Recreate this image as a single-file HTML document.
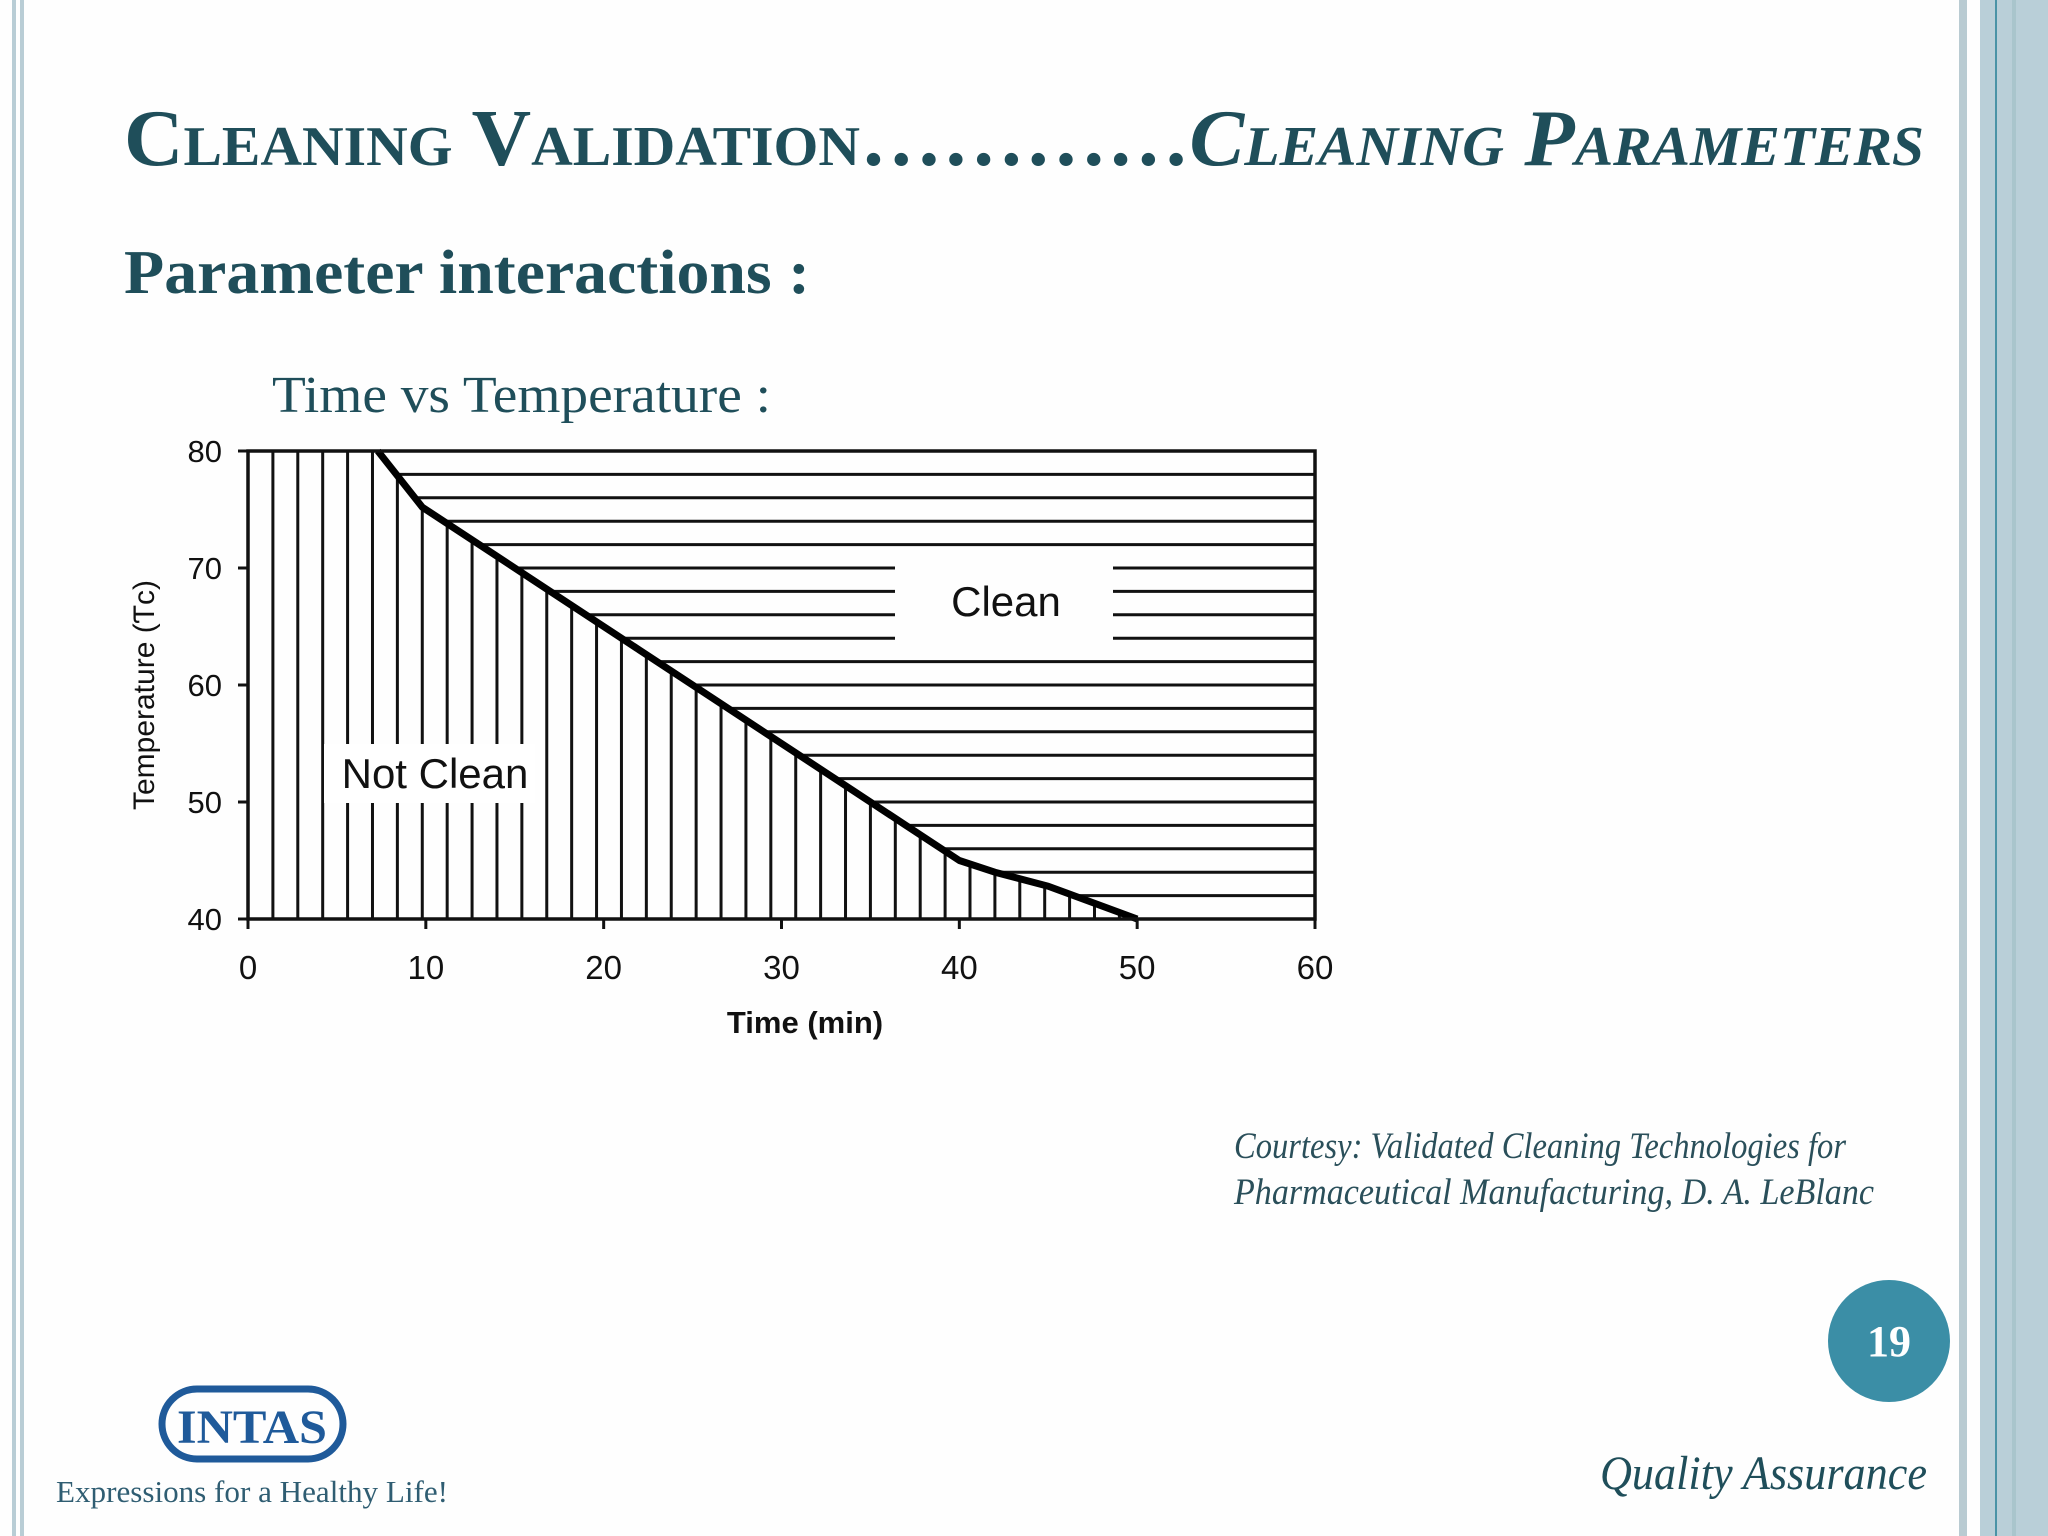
<!DOCTYPE html>
<html><head><meta charset="utf-8"><style>
html,body{margin:0;padding:0;background:#fff;}
svg{display:block;}
</style></head><body>
<svg id="s" width="2048" height="1536" viewBox="0 0 2048 1536" xmlns="http://www.w3.org/2000/svg" font-family="'Liberation Serif', serif">
<rect width="2048" height="1536" fill="#fefefe"/>
<rect x="12" y="0" width="4" height="1536" fill="#b9cdd5"/>
<rect x="20" y="0" width="4" height="1536" fill="#b9cdd5"/>
<rect x="1959" y="0" width="8" height="1536" fill="#b9cbd2"/>
<rect x="1980" y="0" width="68" height="1536" fill="#b9cfd8"/>
<rect x="1995" y="0" width="2" height="1536" fill="#4a93a6"/>
<rect x="2012" y="0" width="4" height="1536" fill="#a9c5cc"/>

<text x="124" y="165" font-size="80" font-weight="bold" fill="#1f4e5a" style="font-variant:small-caps" textLength="1800" lengthAdjust="spacingAndGlyphs">Cleaning Validation…………<tspan font-style="italic">Cleaning Parameters</tspan></text>
<text x="124" y="293" font-size="62" font-weight="bold" fill="#1f4e5a" textLength="686" lengthAdjust="spacingAndGlyphs">Parameter interactions :</text>
<text x="272" y="412" font-size="52" fill="#1f4e5a" textLength="499" lengthAdjust="spacingAndGlyphs">Time vs Temperature :</text>

<g id="chart" font-family="'Liberation Sans', sans-serif"></g>

<text x="1234" y="1158" font-size="37" font-style="italic" fill="#2a4f5a" textLength="612" lengthAdjust="spacingAndGlyphs">Courtesy: Validated Cleaning Technologies for</text>
<text x="1234" y="1204" font-size="37" font-style="italic" fill="#2a4f5a" textLength="640" lengthAdjust="spacingAndGlyphs">Pharmaceutical Manufacturing, D. A. LeBlanc</text>

<circle cx="1889" cy="1341" r="61" fill="#3b8ea6"/>
<text x="1889" y="1356" font-size="44" font-weight="bold" fill="#fff" text-anchor="middle">19</text>
<text x="1600" y="1489" font-size="48" font-style="italic" fill="#1f4e5a" textLength="327" lengthAdjust="spacingAndGlyphs">Quality Assurance</text>

<g>
<rect x="162" y="1389" width="181" height="70" rx="35" fill="none" stroke="#1f5a9a" stroke-width="7"/>
<text x="252" y="1443" font-size="48" font-weight="bold" fill="#1f5a9a" text-anchor="middle" textLength="150" lengthAdjust="spacingAndGlyphs">INTAS</text>
<text x="56" y="1502" font-size="31" fill="#2f5d72" textLength="392" lengthAdjust="spacingAndGlyphs">Expressions for a Healthy Life!</text>
</g>
</svg>
<script>
// data
const curveTimes = [7.3, 9.8, 13, 17, 22, 26, 31, 34, 37, 40, 42, 45, 50];
const curveTemps = [80, 75.2, 72, 68, 63, 59, 54, 51, 48, 45, 44, 42.8, 40];
const xTicks = [0, 10, 20, 30, 40, 50, 60];
const yTicks = [40, 50, 60, 70, 80];

const NS = 'http://www.w3.org/2000/svg';
const g = document.getElementById('chart');
const X0 = 248, X1 = 1315, Y0 = 919, Y1 = 451;
const xs = t => X0 + (t - 0) / 60 * (X1 - X0);
const ys = v => Y0 - (v - 40) / 40 * (Y0 - Y1);
function mk(tag, attrs, parent) {
  const e = document.createElementNS(NS, tag);
  for (const k in attrs) e.setAttribute(k, attrs[k]);
  (parent || g).appendChild(e);
  return e;
}
function tempAt(t) {
  if (t <= curveTimes[0]) return 80;
  for (let i = 1; i < curveTimes.length; i++) {
    if (t <= curveTimes[i]) {
      const f = (t - curveTimes[i-1]) / (curveTimes[i] - curveTimes[i-1]);
      return curveTemps[i-1] + f * (curveTemps[i] - curveTemps[i-1]);
    }
  }
  return 40;
}
function timeAt(v) {
  for (let i = 1; i < curveTemps.length; i++) {
    if (v >= curveTemps[i]) {
      const f = (curveTemps[i-1] - v) / (curveTemps[i-1] - curveTemps[i]);
      return curveTimes[i-1] + f * (curveTimes[i] - curveTimes[i-1]);
    }
  }
  return curveTimes[curveTimes.length-1];
}
const lastT = curveTimes[curveTimes.length-1];
for (let t = 0; t < lastT; t += 1.4) {
  const l = mk('line', {x1: xs(t), x2: xs(t), y1: Y0, y2: ys(tempAt(t)), stroke: '#111', 'stroke-width': 3});
  
  
}
for (let v = 40; v <= 80.01; v += 2) {
  const xa = xs(timeAt(v)), y = ys(v);
  const segs = (y > 565 && y < 642) ? [[xa, 895], [1113, X1]] : [[xa, X1]];
  segs.forEach(s => {
    if (s[1] <= s[0]) return;
    const l = mk('line', {x1: s[0], x2: s[1], y1: y, y2: y, stroke: '#111', 'stroke-width': 3});
    
    
  });
}
const nb = mk('rect', {x: 324, y: 744, width: 211, height: 59, fill: '#fff'});


const nt = mk('text', {x: 435, y: 788, 'font-size': 42, 'text-anchor': 'middle', fill: '#111'});
nt.textContent = 'Not Clean';


const ct = mk('text', {x: 1006, y: 616, 'font-size': 42, 'text-anchor': 'middle', fill: '#111'});
ct.textContent = 'Clean';


const pts = curveTimes.map((t, i) => xs(t) + ',' + ys(curveTemps[i])).join(' ');
const cl = mk('polyline', {points: pts, fill: 'none', stroke: '#000', 'stroke-width': 7, 'stroke-linejoin': 'round'});


const fr = mk('rect', {x: X0, y: Y1, width: X1 - X0, height: Y0 - Y1, fill: 'none', stroke: '#111', 'stroke-width': 3.5});


xTicks.forEach(t => {
  const tk = mk('line', {x1: xs(t), x2: xs(t), y1: Y0, y2: Y0 + 10, stroke: '#111', 'stroke-width': 3});
  
  
  const tl = mk('text', {x: xs(t), y: 979, 'font-size': 33, 'text-anchor': 'middle', fill: '#111'});
  tl.textContent = t;
  
  
});
yTicks.forEach(v => {
  const tk = mk('line', {x1: X0 - 10, x2: X0, y1: ys(v), y2: ys(v), stroke: '#111', 'stroke-width': 3});
  
  
  const tl = mk('text', {x: 222, y: ys(v) + 11, 'font-size': 31, 'text-anchor': 'end', fill: '#111'});
  tl.textContent = v;
  
  
});
const xt = mk('text', {x: 805, y: 1033, 'font-size': 31, 'font-weight': 'bold', 'text-anchor': 'middle', fill: '#111'});
xt.textContent = 'Time (min)';


const yt = mk('text', {x: 0, y: 0, 'font-size': 30, 'text-anchor': 'middle', fill: '#111', transform: 'translate(154,695) rotate(-90)'});
yt.textContent = 'Temperature (Ƭc)';


</script>
</body></html>
